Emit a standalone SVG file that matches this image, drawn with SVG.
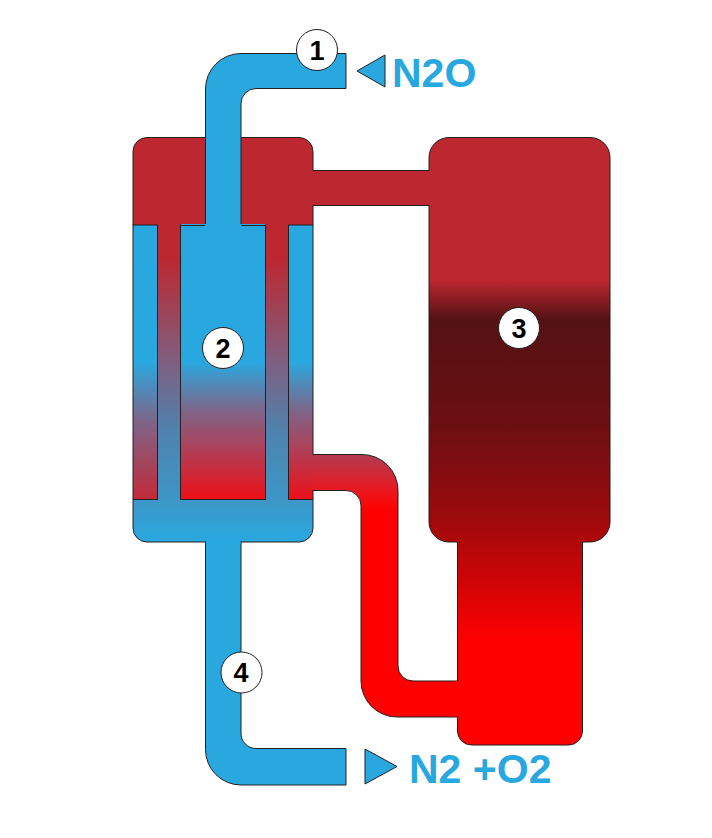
<svg xmlns="http://www.w3.org/2000/svg" width="712" height="838" viewBox="0 0 712 838">
<style>
.s{stroke:#231f20;stroke-width:1;stroke-linejoin:round}
.b{fill:#29a8e0}
.c{fill:#fff;stroke:#231f20;stroke-width:1}
.n{font-family:"Liberation Sans",Arial,sans-serif;font-weight:700;font-size:27px;fill:#000;text-anchor:middle}
.l{font-family:"Liberation Sans",Arial,sans-serif;font-weight:700;font-size:41px;fill:#29a8e0}
</style>
<defs>
<linearGradient id="gBlueRed" gradientUnits="userSpaceOnUse" x1="0" y1="225" x2="0" y2="499">
<stop offset="0" stop-color="#29a8e0"/><stop offset="0.5" stop-color="#29a8e0"/><stop offset="0.68" stop-color="#7f6488"/><stop offset="1" stop-color="#ed1018"/>
</linearGradient>
<linearGradient id="gSide" gradientUnits="userSpaceOnUse" x1="0" y1="225" x2="0" y2="499">
<stop offset="0" stop-color="#29a8e0"/><stop offset="0.5" stop-color="#29a8e0"/><stop offset="0.72" stop-color="#7f6488"/><stop offset="1" stop-color="#c22a38"/>
</linearGradient>
<linearGradient id="gRedBlue" gradientUnits="userSpaceOnUse" x1="0" y1="225" x2="0" y2="499">
<stop offset="0" stop-color="#bd2730"/><stop offset="0.12" stop-color="#bd2730"/><stop offset="0.5" stop-color="#7f5f80"/><stop offset="0.75" stop-color="#4f82ae"/><stop offset="1" stop-color="#3d96c6"/>
</linearGradient>
<linearGradient id="gBase" gradientUnits="userSpaceOnUse" x1="0" y1="499" x2="0" y2="542">
<stop offset="0" stop-color="#3d96c6"/><stop offset="1" stop-color="#29a8e0"/>
</linearGradient>
<linearGradient id="gPipe" gradientUnits="userSpaceOnUse" x1="0" y1="400" x2="0" y2="510">
<stop offset="0" stop-color="#8a5a7a"/><stop offset="0.5" stop-color="#b33a50"/><stop offset="0.82" stop-color="#e81820"/><stop offset="1" stop-color="#ff0000"/>
</linearGradient>
<linearGradient id="gVessel" gradientUnits="userSpaceOnUse" x1="0" y1="137" x2="0" y2="745">
<stop offset="0" stop-color="#bd2730"/><stop offset="0.235" stop-color="#bd2730"/><stop offset="0.3" stop-color="#541213"/><stop offset="0.47" stop-color="#6b0f12"/><stop offset="0.62" stop-color="#9a0a0c"/><stop offset="0.83" stop-color="#ff0000"/><stop offset="1" stop-color="#ff0000"/>
</linearGradient>
</defs>
<g id="connectors">
<path id="hot-link" d="M312 170.500H430V205.500H312Z" fill="#bd2730" class="s"/>
<path id="return-pipe" class="s" fill="url(#gPipe)" d="M312 454.500H362A36 36 0 0 1 398 490.500V666A15 15 0 0 0 413 681H458V717H397A36 36 0 0 1 361 681V505A15 15 0 0 0 346 490.500H312Z"/>
</g>
<g id="node-3">
<path class="s" fill="url(#gVessel)" d="M449 137.500H590A20 20 0 0 1 610 157.500V522A20 20 0 0 1 590 542H582.500V731A14 14 0 0 1 568.500 745H471.500A14 14 0 0 1 457.500 731V542H449A20 20 0 0 1 429 522V157.500A20 20 0 0 1 449 137.500Z"/>
<path d="M425 171H431V205H425Z" fill="#bd2730"/>
<path d="M452 681.500H459V716.500H452Z" fill="#ff0000"/>
<circle class="c" cx="519" cy="328" r="20.500"/>
<text class="n" x="519" y="337.500">3</text>
</g>
<g id="node-2">
<path class="s" fill="#bd2730" d="M147 137.500H299A14 14 0 0 1 313 151.500V225.500H133V151.500A14 14 0 0 1 147 137.500Z"/>
<rect x="157.500" y="225" width="23" height="274.500" fill="url(#gRedBlue)" class="s"/>
<rect x="265.500" y="225" width="23" height="274.500" fill="url(#gRedBlue)" class="s"/>
<rect x="133" y="225" width="24.500" height="274.500" fill="url(#gSide)" class="s"/>
<rect x="288.500" y="225" width="24.500" height="274.500" fill="url(#gBlueRed)" class="s"/>
<rect x="180.500" y="225" width="85" height="274.500" fill="url(#gBlueRed)" class="s"/>
<path class="s" fill="url(#gBase)" d="M133 499.500H313V528A14 14 0 0 1 299 542H147A14 14 0 0 1 133 528Z"/>
<rect x="158" y="497" width="22" height="4" fill="#3d96c6"/>
<rect x="266" y="497" width="22" height="4" fill="#3d96c6"/>
<rect x="158" y="223.500" width="22" height="4" fill="#bd2730"/>
<rect x="266" y="223.500" width="22" height="4" fill="#bd2730"/>
<rect x="311.500" y="171" width="3" height="34" fill="#bd2730"/>
<rect x="311.500" y="455" width="3" height="35" fill="url(#gPipe)"/>
<circle class="c" cx="223" cy="348" r="20.500"/>
<text class="n" x="223" y="357.500">2</text>
</g>
<g id="node-1">
<path class="s b" d="M346 53.500V88.500H256A15 15 0 0 0 241 103.500V225H205.500V89A35.500 35.500 0 0 1 241 53.500Z"/>
<rect x="181" y="224" width="84" height="3" fill="#29a8e0"/>
<path d="M205 225.500H181M241.500 225.500H265" stroke="#231f20" fill="none"/>
<circle class="c" cx="317" cy="50" r="20.500"/>
<text class="n" x="317" y="59.500">1</text>
<path class="s b" d="M357 71L385 55V87Z"/>
<text class="l" x="392" y="86.500">N2O</text>
</g>
<g id="node-4">
<path class="s b" d="M205.500 542H241V733A15 15 0 0 0 256 748.500H346V785H241A35.500 35.500 0 0 1 205.500 749.500Z"/>
<rect x="206" y="539" width="34.500" height="5" fill="#29a8e0"/>
<circle class="c" cx="241.500" cy="672.500" r="20.500"/>
<text class="n" x="241" y="682">4</text>
<path class="s b" d="M365 749L397 766.500L365 784Z"/>
<text class="l" x="409" y="783">N2 +O2</text>
</g>
</svg>
